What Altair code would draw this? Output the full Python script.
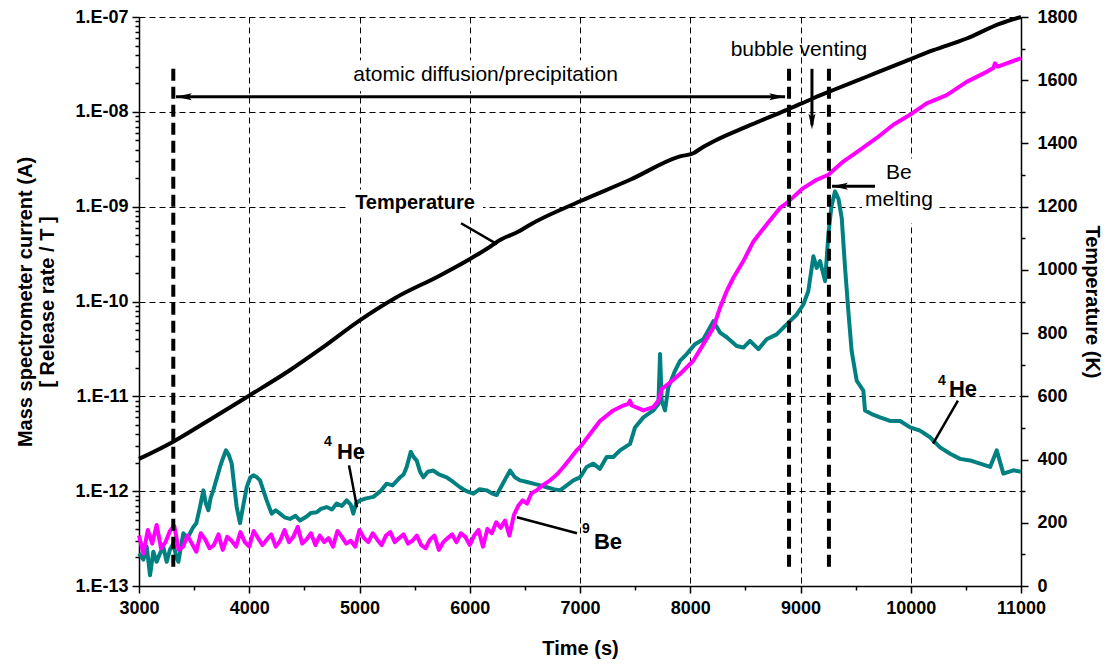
import altair as alt
import pandas as pd

FONT = "Liberation Sans"

# ---------------- data ----------------
# Temperature (K), right axis
temp_t = [3000, 3302, 3605, 3998, 4361, 4663, 4996, 5328, 5722, 5994, 6205, 6244,
          6447, 6547, 7000, 7454, 7907, 8028, 8100, 8210, 8512, 8875, 9117, 9298,
          9600, 9902, 10205, 10507, 10810, 11000]
temp_k = [402, 455, 518, 602, 681, 754, 839, 912, 981, 1033, 1078, 1088,
          1122, 1143, 1217, 1285, 1359, 1369, 1385, 1406, 1453, 1506, 1543, 1569,
          1611, 1653, 1695, 1732, 1779, 1800]

# 4He signal (A)
he_t = [3000, 3040, 3070, 3100, 3130, 3160, 3190, 3220, 3251, 3280, 3311, 3340, 3357,
        3402, 3440, 3493, 3520, 3553, 3584, 3605, 3629, 3650, 3674, 3700, 3735, 3760,
        3789, 3815, 3841, 3865, 3886, 3916, 3945, 3977, 4010, 4037, 4070, 4098, 4130,
        4158, 4203, 4240, 4279, 4320, 4370, 4420, 4461, 4521, 4560, 4612, 4650, 4702,
        4750, 4793, 4840, 4884, 4920, 4944, 4970, 5005, 5060, 5126, 5190, 5247, 5300,
        5368, 5400, 5428, 5465, 5490, 5519, 5550, 5579, 5620, 5670, 5720, 5791, 5850,
        5912, 5970, 6033, 6090, 6154, 6200, 6245, 6300, 6366, 6410, 6456, 6520, 6577,
        6640, 6698, 6760, 6819, 6880, 6940, 7000, 7060, 7121, 7181, 7242, 7302, 7363,
        7454, 7499, 7575, 7665, 7711, 7726, 7741, 7771, 7801, 7862, 7907, 7968, 8043,
        8119, 8210, 8270, 8331, 8421, 8482, 8542, 8618, 8693, 8784, 8845, 8905, 8966,
        9026, 9071, 9117, 9147, 9177, 9223, 9253, 9280, 9313, 9345, 9374, 9404, 9434,
        9464, 9510, 9570, 9585, 9646, 9722, 9812, 9903, 9994, 10084, 10175, 10266,
        10357, 10447, 10538, 10629, 10720, 10780, 10840, 10931, 11000]
he_v = [2.2e-13, 1.9e-13, 2.6e-13, 1.3e-13, 2.3e-13, 1.8e-13, 2.2e-13, 2.6e-13, 1.8e-13,
        2.4e-13, 2.8e-13, 2.0e-13, 1.8e-13, 3.6e-13, 3.2e-13, 4.2e-13, 4.6e-13, 6.8e-13,
        1.02e-12, 7.5e-13, 6.3e-13, 8.5e-13, 1.02e-12, 1.3e-12, 1.8e-12, 2.2e-12, 2.7e-12,
        2.4e-12, 1.95e-12, 1.1e-12, 6.8e-13, 4.6e-13, 7.0e-13, 1.1e-12, 1.4e-12, 1.47e-12,
        1.4e-12, 1.3e-12, 1.0e-12, 8.0e-13, 5.8e-13, 6.3e-13, 5.8e-13, 5.3e-13, 5.1e-13,
        5.5e-13, 4.9e-13, 5.4e-13, 5.9e-13, 6.0e-13, 6.5e-13, 6.8e-13, 6.4e-13, 7.4e-13,
        7.0e-13, 8.0e-13, 7.2e-13, 5.8e-13, 7.5e-13, 8.0e-13, 8.4e-13, 8.7e-13, 1.0e-12,
        1.2e-12, 1.15e-12, 1.4e-12, 1.5e-12, 1.8e-12, 2.6e-12, 2.3e-12, 2.1e-12, 1.6e-12,
        1.4e-12, 1.6e-12, 1.65e-12, 1.5e-12, 1.4e-12, 1.25e-12, 1.1e-12, 1.0e-12, 9.4e-13,
        1.05e-12, 1.02e-12, 9.5e-13, 9.1e-13, 1.2e-12, 1.65e-12, 1.4e-12, 1.3e-12, 1.25e-12,
        1.2e-12, 1.15e-12, 1.1e-12, 1.05e-12, 1.02e-12, 1.15e-12, 1.3e-12, 1.4e-12, 1.8e-12,
        1.95e-12, 1.72e-12, 2.29e-12, 2.29e-12, 2.69e-12, 3.15e-12, 4.7e-12, 6.0e-12,
        7.1e-12, 8.3e-12, 2.8e-11, 9.0e-12, 7.1e-12, 1.24e-11, 1.86e-11, 2.37e-11, 2.79e-11,
        3.55e-11, 4.0e-11, 6.2e-11, 4.7e-11, 4.2e-11, 3.4e-11, 3.27e-11, 3.85e-11, 3.14e-11,
        4.0e-11, 4.5e-11, 5.3e-11, 6.2e-11, 7.3e-11, 9.3e-11, 1.29e-10, 3.0e-10, 2.26e-10,
        2.67e-10, 1.64e-10, 5.1e-10, 1.0e-9, 1.45e-9, 1.2e-9, 7.6e-10, 2.27e-10, 7.9e-11,
        3.0e-11, 1.46e-11, 1.15e-11, 7.1e-12, 6.5e-12, 6.0e-12, 5.5e-12, 5.5e-12, 4.7e-12,
        4.35e-12, 3.7e-12, 2.9e-12, 2.48e-12, 2.19e-12, 2.11e-12, 1.95e-12, 1.8e-12,
        2.69e-12, 1.53e-12, 1.66e-12, 1.6e-12]

# 9Be signal (A)
be_t = list(range(3000, 6401, 40)) + [
    6440, 6480, 6520, 6560, 6608, 6660, 6729, 6790, 6850, 6910, 6970, 7000, 7091, 7181,
    7302, 7393, 7440, 7454, 7470, 7575, 7665, 7711, 7741, 7817, 7907, 8028, 8119, 8210,
    8270, 8331, 8391, 8482, 8573, 8693, 8814, 8874, 9025, 9146, 9252, 9388, 9540, 9691,
    9842, 9993, 10144, 10326, 10507, 10689, 10750, 10764, 10790, 10991, 11000]
be_v = [3.4e-13, 2.2e-13, 3.9e-13, 2.8e-13, 4.4e-13, 2.5e-13, 2.9e-13, 3.8e-13, 4.3e-13, 2.4e-13,
        2.6e-13, 3.4e-13, 2.8e-13, 2.3e-13, 3.6e-13, 3.1e-13, 2.5e-13, 2.7e-13, 3.5e-13, 2.4e-13,
        3.3e-13, 3.0e-13, 2.6e-13, 3.7e-13, 2.9e-13, 2.6e-13, 3.8e-13, 3.2e-13, 2.7e-13, 3.1e-13,
        3.5e-13, 2.6e-13, 3.0e-13, 3.9e-13, 2.9e-13, 3.3e-13, 4.2e-13, 2.8e-13, 3.1e-13, 3.6e-13,
        2.7e-13, 3.4e-13, 2.9e-13, 3.2e-13, 2.6e-13, 3.8e-13, 3.3e-13, 2.8e-13, 3.0e-13, 2.6e-13,
        3.9e-13, 3.2e-13, 2.9e-13, 3.6e-13, 3.1e-13, 2.7e-13, 3.4e-13, 3.7e-13, 2.9e-13, 3.2e-13,
        3.5e-13, 2.8e-13, 3.0e-13, 3.4e-13, 2.7e-13, 2.5e-13, 3.1e-13, 3.4e-13, 2.4e-13, 2.9e-13,
        3.2e-13, 3.5e-13, 2.9e-13, 3.6e-13, 3.3e-13, 2.7e-13, 3.4e-13, 3.9e-13, 2.6e-13, 4.0e-13,
        3.6e-13, 4.7e-13, 4.1e-13, 4.9e-13, 3.4e-13, 5.6e-13,
        7.0e-13, 8.0e-13, 7.4e-13, 9.5e-13, 1.02e-12, 1.15e-12, 1.3e-12, 1.5e-12, 1.8e-12,
        2.2e-12, 2.7e-12, 2.9e-12, 4.0e-12, 5.5e-12, 7.1e-12, 8.0e-12, 8.4e-12, 9.0e-12,
        8.0e-12, 7.1e-12, 7.7e-12, 9.0e-12, 1.19e-11, 1.40e-11, 1.72e-11, 2.37e-11, 3.55e-11,
        5.3e-11, 8.6e-11, 1.29e-10, 1.78e-10, 2.67e-10, 4.3e-10, 6.5e-10, 9.7e-10, 1.09e-9,
        1.57e-9, 1.92e-9, 2.17e-9, 2.99e-9, 3.97e-9, 5.3e-9, 7.3e-9, 9.3e-9, 1.23e-8,
        1.50e-8, 2.07e-8, 2.64e-8, 2.9e-8, 3.24e-8, 2.99e-8, 3.65e-8, 3.7e-8]

# ---------------- annotations ----------------
vline_t = [3311, 8896, 9258]
vline_top, vline_bot = 2.84e-8, 1.48e-13

shaft_t = [3335, 9104, 9676]
shaft_t2 = [8860, 9104, 9286]
shaft_v = [1.44e-8, 2.84e-8, 1.64e-9]
shaft_v2 = [1.44e-8, 7.2e-9, 1.64e-9]

lead_t = [5921, 4905, 6428, 10428]
lead_t2 = [6247, 4977, 6973, 10202]
lead_v = [6.68e-10, 1.87e-12, 5.31e-13, 9.0e-12]
lead_v2 = [4.02e-10, 6.76e-13, 3.6e-13, 3.18e-12]

head_t = [3335, 8860, 9104, 9286]
head_v = [1.44e-8, 1.44e-8, 6.5e-9, 1.64e-9]
head_dir = ["left", "right", "down", "left"]

# white label boxes that hide the grid behind some labels
box_t = [4868, 4887, 9558]
box_t2 = [7435, 6120, 10238]
box_v = [3.5e-8, 1.52e-9, 3.22e-9]
box_v2 = [1.65e-8, 8.0e-10, 6.7e-10]

reg_text = ["atomic diffusion/precipitation", "bubble venting", "Be", "melting"]
reg_t = [6143, 8986, 9893, 9893]
reg_v = [2.46e-8, 4.5e-8, 2.24e-9, 1.19e-9]

big_text = ["He", "He", "Be"]
big_t = [4923, 10474, 7254]
big_v = [2.56e-12, 1.2e-11, 2.9e-13]

sup_text = ["4", "4", "9"]
sup_t = [4714, 10283, 7054]
sup_v = [3.26e-12, 1.46e-11, 3.97e-13]

# ---------------- chart ----------------
x_scale = alt.Scale(domain=[3000, 11000], nice=False, zero=False)
y_scale = alt.Scale(type="log", domain=[1e-13, 1e-7], nice=False)
t_scale = alt.Scale(domain=[0, 1800], nice=False, zero=True)

decade = "abs(log(datum.value)/LN10 - round(log(datum.value)/LN10)) < 0.01"
y_vals = []
for e in range(-13, -7):
    for k in range(1, 10):
        y_vals.append(float(f"{k}e{e}"))
y_vals.append(1e-7)

common_axis = dict(labelFont=FONT, labelFontSize=18, labelFontWeight="bold", labelColor="black",
                   titleFont=FONT, titleFontSize=20, titleFontWeight="bold", titleColor="black",
                   domainColor="black", domainWidth=1.5, tickColor="black", tickWidth=1.5)

x_axis = alt.Axis(values=list(range(3000, 11001, 500)),
                  labelExpr="datum.value % 1000 == 0 ? '' + datum.value : ''",
                  tickSize={"condition": {"test": "datum.value % 1000 == 0", "value": 7}, "value": 4},
                  grid=True, gridColor="black", gridWidth=1, gridDash=[6, 4],
                  gridOpacity={"condition": {"test": "datum.value % 1000 == 0", "value": 1}, "value": 0},
                  labelPadding=6, titlePadding=21, title="Time (s)", labelFlush=False,
                  **common_axis)

y_axis = alt.Axis(values=y_vals, orient="left",
                  labelExpr=f"{decade} ? '1.E-' + pad('' + round(-log(datum.value)/LN10), 2, '0', 'left') : ''",
                  tickSize={"condition": {"test": decade, "value": 7}, "value": 4},
                  grid=True, gridColor="black", gridWidth=1, gridDash=[6, 4],
                  gridOpacity={"condition": {"test": decade, "value": 1}, "value": 0},
                  labelPadding=4, titlePadding=17, labelFlush=False,
                  title=["Mass spectrometer  current (A)", "[ Release rate / T ]"],
                  **common_axis)

t_axis = alt.Axis(values=list(range(0, 1801, 100)), orient="right",
                  labelExpr="datum.value % 200 == 0 ? '' + datum.value : ''",
                  tickSize={"condition": {"test": "datum.value % 200 == 0", "value": 7}, "value": 4},
                  grid=False, labelPadding=9, titlePadding=4, labelFlush=False,
                  title="Temperature (K)", **common_axis)

he_df = pd.DataFrame({"t": he_t, "v": he_v})
n_be = min(len(be_t), len(be_v))
be_df = pd.DataFrame({"t": be_t[:n_be], "v": be_v[:n_be]})
temp_df = pd.DataFrame({"t": temp_t, "k": temp_k})


def X(f="t"):
    return alt.X(f"{f}:Q", scale=x_scale, axis=x_axis)


def Y(f="v"):
    return alt.Y(f"{f}:Q", scale=y_scale, axis=None)


bx_df = pd.DataFrame({"t": box_t, "t2": box_t2, "v": box_v, "v2": box_v2})
boxes = alt.Chart(bx_df).mark_rect(color="white", opacity=1).encode(
    x=X(), x2="t2:Q", y=Y(), y2="v2:Q")

he_line = alt.Chart(he_df).mark_line(color="#008080", strokeWidth=4, strokeJoin="round").encode(
    x=X(), y=alt.Y("v:Q", scale=y_scale, axis=y_axis))
be_line = alt.Chart(be_df).mark_line(color="#FF00FF", strokeWidth=4, strokeJoin="round").encode(
    x=X(), y=Y())

vl_df = pd.DataFrame({"t": vline_t, "v": [vline_top] * 3, "v2": [vline_bot] * 3})
vlines = alt.Chart(vl_df).mark_rule(color="black", strokeWidth=4, strokeDash=[12, 6]).encode(
    x=X(), y=Y(), y2="v2:Q")

sh_df = pd.DataFrame({"t": shaft_t, "t2": shaft_t2, "v": shaft_v, "v2": shaft_v2})
shafts = alt.Chart(sh_df).mark_rule(color="black", strokeWidth=3).encode(
    x=X(), x2="t2:Q", y=Y(), y2="v2:Q")

ld_df = pd.DataFrame({"t": lead_t, "t2": lead_t2, "v": lead_v, "v2": lead_v2})
leads = alt.Chart(ld_df).mark_rule(color="black", strokeWidth=2.5).encode(
    x=X(), x2="t2:Q", y=Y(), y2="v2:Q")

shapes = {
    "left": "M0,0 L1,-0.22 L0.8,0 L1,0.22 Z",
    "right": "M0,0 L-1,-0.22 L-0.8,0 L-1,0.22 Z",
    "down": "M0,0 L-0.22,-1 L0,-0.8 L0.22,-1 Z",
}
hd_df = pd.DataFrame({"t": head_t, "v": head_v, "d": head_dir})
heads = []
for d, path in shapes.items():
    heads.append(alt.Chart(hd_df).transform_filter(alt.datum.d == d).mark_point(
        shape=path, filled=True, color="black", size=1000, opacity=1, strokeWidth=0
    ).encode(x=X(), y=Y()))

reg_df = pd.DataFrame({"t": reg_t, "v": reg_v, "s": reg_text})
reg_txt = alt.Chart(reg_df).mark_text(font=FONT, fontSize=21, color="black").encode(
    x=X(), y=Y(), text="s:N")

temp_lbl = alt.Chart(pd.DataFrame({"t": [5503], "v": [1.08e-9], "s": ["Temperature"]})).mark_text(
    font=FONT, fontSize=20, fontWeight="bold", color="black").encode(x=X(), y=Y(), text="s:N")

big_df = pd.DataFrame({"t": big_t, "v": big_v, "s": big_text})
big_txt = alt.Chart(big_df).mark_text(font=FONT, fontSize=22, fontWeight="bold", color="black").encode(
    x=X(), y=Y(), text="s:N")
sup_df = pd.DataFrame({"t": sup_t, "v": sup_v, "s": sup_text})
sup_txt = alt.Chart(sup_df).mark_text(font=FONT, fontSize=14, fontWeight="bold", color="black").encode(
    x=X(), y=Y(), text="s:N")

temp_line = alt.Chart(temp_df).mark_line(color="black", strokeWidth=4, strokeJoin="round",
                                         interpolate="monotone").encode(
    x=X(), y=alt.Y("k:Q", scale=t_scale, axis=t_axis))

chart = alt.layer(
    boxes, he_line, be_line, vlines, shafts, leads, *heads, reg_txt, temp_lbl, big_txt, sup_txt, temp_line
).resolve_scale(y="independent").properties(
    width=882, height=569,
    autosize=alt.AutoSizeParams(type="none"),
    padding={"left": 131, "top": 9, "right": 85, "bottom": 79},
).configure_view(strokeWidth=0)

chart.save("out.html", embed_options={"renderer": "svg", "actions": False})
